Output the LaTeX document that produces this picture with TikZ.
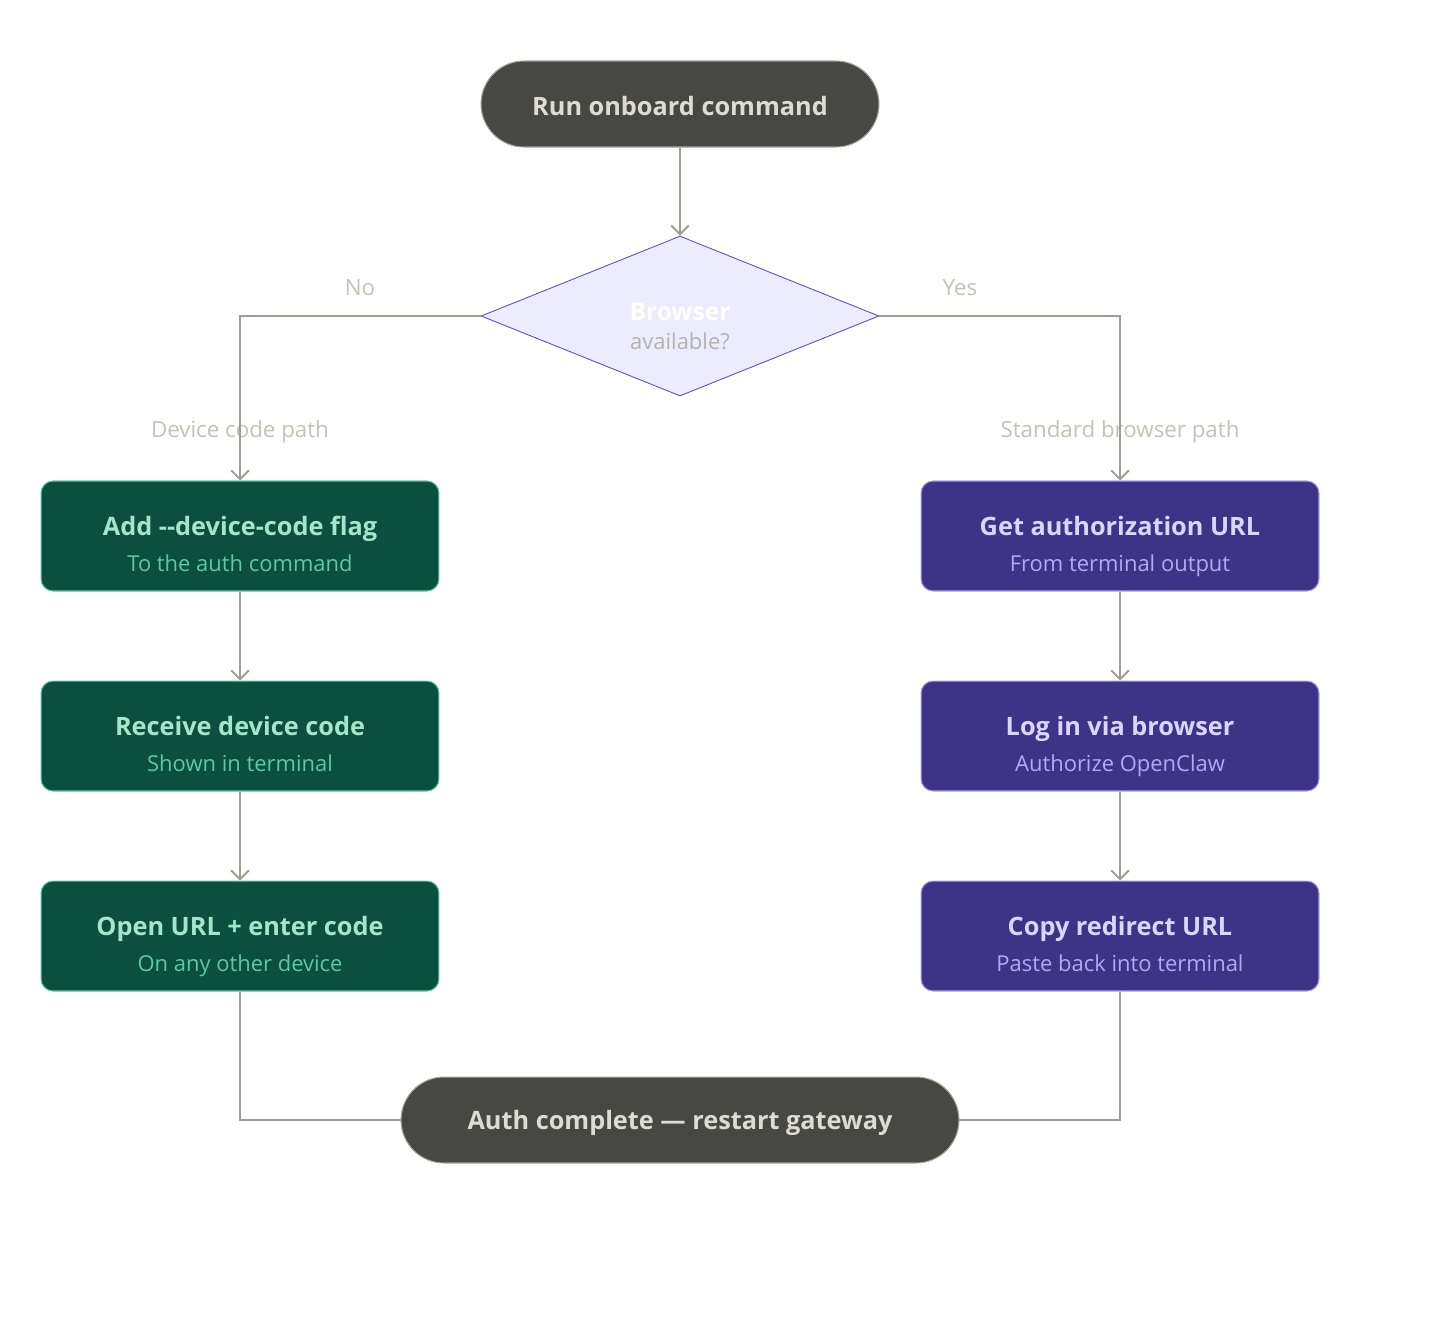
\documentclass[tikz,border=0pt]{standalone}
\usepackage{fontspec}
\setmainfont{Open Sans}
\usepackage{tikz}
\usetikzlibrary{positioning, shapes.geometric, arrows.meta}

\definecolor{pillfill}{HTML}{474743}
\definecolor{pilltext}{HTML}{DEDCD2}
\definecolor{pilledge}{HTML}{A3A398}
\definecolor{linegray}{HTML}{9D9D92}
\definecolor{labelgray}{HTML}{C2C2B6}
\definecolor{greenfill}{HTML}{0B4F3F}
\definecolor{greenedge}{HTML}{5EC6A0}
\definecolor{greentitle}{HTML}{A5E5CA}
\definecolor{greensub}{HTML}{5CC9A0}
\definecolor{purplefill}{HTML}{3D3488}
\definecolor{purpleedge}{HTML}{A89EF0}
\definecolor{purpletitle}{HTML}{DAD6FF}
\definecolor{purplesub}{HTML}{B2A8F4}
\definecolor{diamfill}{HTML}{ECECFE}
\definecolor{diamedge}{HTML}{5A50C8}
\definecolor{diamsub}{HTML}{B4B4AC}

% struts keep every box's two lines at the same places
\newcommand{\gtitle}[2]{{\color{greentitle}\fontsize{14.4}{17}\selectfont\bfseries\rule[-5pt]{0pt}{29pt}#1}\\[5pt]{\color{greensub}\fontsize{12.5}{15}\selectfont\rule[-4pt]{0pt}{4pt}#2}}
\newcommand{\ptitle}[2]{{\color{purpletitle}\fontsize{14.4}{17}\selectfont\bfseries\rule[-5pt]{0pt}{29pt}#1}\\[5pt]{\color{purplesub}\fontsize{12.5}{15}\selectfont\rule[-4pt]{0pt}{4pt}#2}}

\begin{document}
\begin{tikzpicture}[x=0.02cm, y=-0.02cm,
    pill/.style={draw=pilledge, line width=0.6pt, fill=pillfill, text=pilltext, rounded corners=0.86cm, minimum height=1.72cm, font=\fontsize{14.4}{17}\selectfont\bfseries},
    greenbox/.style={draw=greenedge, line width=0.6pt, fill=greenfill, rounded corners=0.24cm, minimum width=7.96cm, minimum height=2.2cm, align=center},
    purplebox/.style={draw=purpleedge, line width=0.6pt, fill=purplefill, rounded corners=0.24cm, minimum width=7.96cm, minimum height=2.2cm, align=center},
    decision/.style={diamond, draw=diamedge, line width=0.5pt, fill=diamfill, aspect=2.49, inner sep=0pt, minimum width=7.96cm, minimum height=3.2cm, align=center},
    pathlabel/.style={text=labelgray, font=\fontsize{12.7}{15}\selectfont},
    flow/.style={draw=linegray, line width=1.3pt, -{Straight Barb[length=5pt, width=10pt, line width=1.1pt]}},
    joinline/.style={draw=linegray, line width=1.3pt}]
    \useasboundingbox (0,0) rectangle (1440,1320);

    \node (start) [pill, minimum width=7.96cm] at (680,104) {\rule{0pt}{13pt}Run onboard command};
    \node (browser) [decision] at (680,316) {{\color{white}\fontsize{14}{17}\selectfont\bfseries\rule{0pt}{22pt}Browser}\\[4.5pt]{\color{diamsub}\fontsize{12.5}{15}\selectfont available?}};

    % device code side
    \node (addflag) [greenbox] at (240,536) {\gtitle{Add -{}-device-code flag}{To the auth command}};
    \node (receive) [greenbox] at (240,736) {\gtitle{Receive device code}{Shown in terminal}};
    \node (openurl) [greenbox] at (240,936) {\gtitle{Open URL + enter code}{On any other device}};

    % browser side
    \node (geturl) [purplebox] at (1120,536) {\ptitle{Get authorization URL}{From terminal output}};
    \node (login) [purplebox] at (1120,736) {\ptitle{Log in via browser}{Authorize OpenClaw}};
    \node (copyurl) [purplebox] at (1120,936) {\ptitle{Copy redirect URL}{Paste back into terminal}};

    \node (done) [pill, minimum width=11.16cm] at (680,1120) {\rule{0pt}{14pt}Auth complete --- restart gateway};

    \node (nolabel) [pathlabel] at (360,288) {No};
    \node (yeslabel) [pathlabel] at (960,288) {Yes};
    \node (devlabel) [pathlabel] at (240,432) {Device code path};
    \node (stdlabel) [pathlabel] at (1120,432) {Standard browser path};

    \draw [flow] (start) -- (browser.north);
    \draw [flow] (browser.west) -| (addflag.north);
    \draw [flow] (browser.east) -| (geturl.north);
    \draw [flow] (addflag) -- (receive);
    \draw [flow] (receive) -- (openurl);
    \draw [flow] (geturl) -- (login);
    \draw [flow] (login) -- (copyurl);
    \draw [joinline] (openurl.south) |- (done.west);
    \draw [joinline] (copyurl.south) |- (done.east);
\end{tikzpicture}
\end{document}
